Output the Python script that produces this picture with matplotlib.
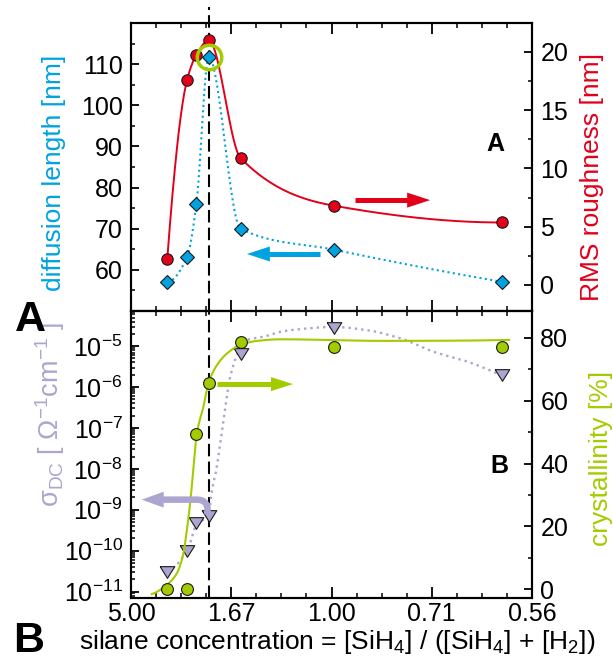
import numpy as np
import matplotlib
matplotlib.use('Agg')
import matplotlib.pyplot as plt
from matplotlib.ticker import FixedLocator, MultipleLocator, LogLocator, NullFormatter, FuncFormatter
from matplotlib.patches import Polygon

plt.rcParams['font.family'] = ['Liberation Sans', 'DejaVu Sans']
plt.rcParams['mathtext.fontset'] = 'custom'
plt.rcParams['mathtext.rm'] = 'Liberation Sans'
plt.rcParams['mathtext.it'] = 'Liberation Sans:italic'
plt.rcParams['mathtext.bf'] = 'Liberation Sans:bold'

# ---------------- data ----------------
silane_conc = [2.90, 2.36, 2.17, 1.96, 1.57, 0.99, 0.595]       # %
diffusion_length = [57.1, 63.1, 76.0, 111.8, 70.0, 64.9, 57.1]   # nm
rms_roughness = [2.26, 17.6, 19.75, 21.0, 10.9, 6.8, 5.36]       # nm
sigma_dc = [3.0e-11, 9.8e-11, 4.8e-10, 6.9e-10, 6.3e-6, 2.8e-5, 1.95e-6]
crystallinity = [0.1, 0.1, 49.3, 65.5, 78.7, 76.9, 76.9]         # %
# crystallinity fit curve (x = 1/concentration)
fit_inv_conc = [0.283, 0.343, 0.383, 0.409, 0.423, 0.436, 0.445, 0.463, 0.489,
                0.509, 0.543, 0.583, 0.636, 0.703, 0.796, 1.196, 1.709]
fit_cryst = [-1.5, 1.4, 5.1, 11.4, 18.9, 27.4, 34.8, 49.6, 58.1,
             65.5, 71.3, 75.0, 77.7, 79.0, 79.5, 79.0, 79.3]
# dotted guide line through the conductivity points (log10 sigma)
guide_inv_conc = [0.343, 0.424, 0.464, 0.508, 0.523, 0.540, 0.569, 0.596, 0.628, 0.663,
                  0.728, 0.796, 0.863, 1.008, 1.143, 1.276, 1.409, 1.543, 1.676]
guide_log_sigma = [-10.48, -10.01, -9.33, -9.16, -8.52, -8.03, -6.81, -5.75, -5.15, -4.85,
                   -4.77, -4.65, -4.59, -4.53, -4.61, -4.81, -5.14, -5.38, -5.71]
transition_conc = 1.96
optimum_index = 3
xtick_inv = [0.2, 0.6, 1.0, 1.4, 1.8]

RED = '#E2001A'
BLUE = '#00A3E0'
LAV = '#ADA5CF'
GREEN = '#A3CC00'
EDGE = '#1a1a1a'
FS_TICK = 18
FS_LAB = 19


def pchip(x, y, xn):
    x = np.asarray(x, float); y = np.asarray(y, float)
    h = np.diff(x); d = np.diff(y) / h
    n = len(x); m = np.zeros(n)
    for k in range(1, n - 1):
        if d[k - 1] * d[k] > 0:
            w1 = 2 * h[k] + h[k - 1]; w2 = h[k] + 2 * h[k - 1]
            m[k] = (w1 + w2) / (w1 / d[k - 1] + w2 / d[k])

    def end(h0, h1, d0, d1):
        mm = ((2 * h0 + h1) * d0 - h0 * d1) / (h0 + h1)
        if np.sign(mm) != np.sign(d0):
            mm = 0.0
        elif np.sign(d0) != np.sign(d1) and abs(mm) > abs(3 * d0):
            mm = 3 * d0
        return mm
    m[0] = end(h[0], h[1], d[0], d[1])
    m[-1] = end(h[-1], h[-2], d[-1], d[-2])
    idx = np.clip(np.searchsorted(x, xn) - 1, 0, n - 2)
    t = (xn - x[idx]) / h[idx]
    h00 = 2 * t**3 - 3 * t**2 + 1; h10 = t**3 - 2 * t**2 + t
    h01 = -2 * t**3 + 3 * t**2; h11 = t**3 - t**2
    return h00 * y[idx] + h10 * h[idx] * m[idx] + h01 * y[idx + 1] + h11 * h[idx] * m[idx + 1]


def draw_arrow(ax, pts, color, shaft_px, head_len_px, head_w_px, corner_px=0.0):
    P = ax.transAxes.transform(np.array(pts, float))
    tip = P[-1]; prev = P[-2]
    dvec = (tip - prev) / np.linalg.norm(tip - prev)
    nrm = np.array([-dvec[1], dvec[0]])
    base = tip - dvec * head_len_px
    path = [P[0]]
    for i in range(1, len(P) - 1):
        c = P[i]
        a = c + (P[i - 1] - c) / np.linalg.norm(P[i - 1] - c) * corner_px
        b = c + (P[i + 1] - c) / np.linalg.norm(P[i + 1] - c) * corner_px
        t = np.linspace(0, 1, 16)[:, None]
        path.extend((1 - t)**2 * a + 2 * (1 - t) * t * c + t**2 * b)
    path.append(base + dvec * 1.0)
    inv = ax.transAxes.inverted()
    pth = inv.transform(np.array(path))
    ax.plot(pth[:, 0], pth[:, 1], color=color, lw=shaft_px * 0.72, solid_capstyle='butt',
            solid_joinstyle='round', transform=ax.transAxes, clip_on=False, zorder=6)
    head = np.array([tip, base + nrm * head_w_px / 2, base - nrm * head_w_px / 2])
    ax.add_patch(Polygon(inv.transform(head), closed=True, facecolor=color, edgecolor='none',
                         transform=ax.transAxes, clip_on=False, zorder=6))


fig = plt.figure(figsize=(6.13, 6.66), dpi=100)
W, H = 613.0, 666.0
axA = fig.add_axes([131 / W, 1 - 311 / H, 401 / W, 288 / H])
axB = fig.add_axes([131 / W, 1 - 597.7 / H, 401 / W, 286.7 / H])
axA2 = axA.twinx()
axB2 = axB.twinx()

xdat = 1.0 / np.array(silane_conc)
xs = np.linspace(xdat.min(), xdat.max(), 400)

# ---------------- panel A ----------------
axA.plot(xs, pchip(xdat, diffusion_length, xs), color=BLUE, lw=1.5, ls=(0, (1, 1.6)), zorder=2)
axA.plot(xdat, diffusion_length, ls='none', marker='D', ms=6.8, mfc=BLUE, mec=EDGE, mew=0.8, zorder=3)
axA.axvline(1 / transition_conc, ymin=0, ymax=1.057, color='k', lw=1.5, ls=(0, (6, 2.5)),
            clip_on=False, zorder=1)
axA2.plot(xs, pchip(xdat, rms_roughness, xs), color=RED, lw=1.4, zorder=2)
axA2.plot(xdat, rms_roughness, ls='none', marker='o', ms=8.2, mfc=RED, mec=EDGE, mew=0.8, zorder=3)
axA2.plot([xdat[optimum_index]], [diffusion_length[optimum_index]], ls='none', marker='o', ms=17.6,
          mfc='none', mec=GREEN, mew=2.5, transform=axA.transData, zorder=7)

# ---------------- panel B ----------------
gx = np.linspace(guide_inv_conc[0], guide_inv_conc[-1], 500)
axB.plot(gx, 10 ** pchip(guide_inv_conc, guide_log_sigma, gx), color=LAV, lw=1.7,
         ls=(0, (1, 1.7)), zorder=2)
tri = [(-1, 0.8), (1, 0.8), (0, -0.8), (-1, 0.8)]
axB.plot(xdat, sigma_dc, ls='none', marker=tri, ms=10.5, mfc=LAV, mec=EDGE, mew=0.8, zorder=3)
axB.axvline(1 / transition_conc, color='k', lw=1.5, ls=(0, (6, 2.5)), zorder=1)
fx = np.linspace(fit_inv_conc[0], fit_inv_conc[-1], 400)
axB2.plot(fx, pchip(fit_inv_conc, fit_cryst, fx), color=GREEN, lw=1.5, zorder=2)
axB2.plot(xdat, crystallinity, ls='none', marker='o', ms=8.5, mfc=GREEN, mec=EDGE, mew=0.8, zorder=3)

# ---------------- axes ----------------
for ax in (axA, axB):
    ax.set_xlim(0.2, 1.8)
    ax.xaxis.set_major_locator(FixedLocator(xtick_inv))
    ax.xaxis.set_minor_locator(MultipleLocator(0.1))
    ax.tick_params(axis='x', which='both', direction='in', top=True, bottom=True)
    ax.tick_params(axis='x', which='major', length=8, width=1.3, labelsize=FS_TICK, pad=3)
    ax.tick_params(axis='x', which='minor', length=3.5, width=1.1)
axA.tick_params(axis='x', labelbottom=False)
axB.xaxis.set_major_formatter(FuncFormatter(lambda v, p: f'{1.0 / v:.2f}'))

axA.set_ylim(50, 120)
axA.yaxis.set_major_locator(FixedLocator([60, 70, 80, 90, 100, 110]))
axA.yaxis.set_minor_locator(MultipleLocator(5))
axA2.set_ylim(-2.24, 22.49)
axA2.yaxis.set_major_locator(FixedLocator([0, 5, 10, 15, 20]))
axA2.yaxis.set_minor_locator(MultipleLocator(2.5))

axB.set_yscale('log')
axB.set_ylim(10 ** -11.15, 10 ** -4.14)
axB.yaxis.set_major_locator(LogLocator(base=10, numticks=20))
axB.yaxis.set_minor_locator(LogLocator(base=10, subs=np.arange(2, 10), numticks=20))
axB.yaxis.set_minor_formatter(NullFormatter())
axB2.set_ylim(-2.67, 88.5)
axB2.yaxis.set_major_locator(FixedLocator([0, 20, 40, 60, 80]))
axB2.yaxis.set_minor_locator(MultipleLocator(10))

for ax in (axA, axA2, axB, axB2):
    ax.tick_params(axis='y', which='major', direction='in', length=5.5, width=1.3,
                   labelsize=FS_TICK, pad=6)
    ax.tick_params(axis='y', which='minor', direction='in', length=3, width=1.1)
    for s in ax.spines.values():
        s.set_linewidth(1.5)

axA.set_ylabel('diffusion length [nm]', color=BLUE, fontsize=FS_LAB)
axA.yaxis.set_label_coords(-0.162, 0.48)
axA2.set_ylabel('RMS roughness [nm]', color=RED, fontsize=FS_LAB)
axA2.yaxis.set_label_coords(1.12, 0.467)
axB.set_ylabel(r'σ$_\mathrm{DC}$ [ Ω$^{-1}$cm$^{-1}$ ]', color=LAV, fontsize=19.5)
axB.yaxis.set_label_coords(-0.16, 0.64)
axB2.set_ylabel('crystallinity [%]', color=GREEN, fontsize=FS_LAB)
axB2.yaxis.set_label_coords(1.143, 0.487)
axB.set_xlabel(r'silane concentration = [SiH$_4$] / ([SiH$_4$] + [H$_2$])', fontsize=FS_LAB)
axB.xaxis.set_label_coords(0.515, -0.104)

axA.text(0.908, 0.58, 'A', transform=axA.transAxes, fontsize=18, fontweight='bold',
         ha='center', va='center')
axB.text(0.918, 0.459, 'B', transform=axB.transAxes, fontsize=18, fontweight='bold',
         ha='center', va='center')
fig.text(0.049, 0.52, 'A', fontsize=31, fontweight='bold', ha='center', va='center')
fig.text(0.046, 0.037, 'B', fontsize=31, fontweight='bold', ha='center', va='center')

# ---------------- arrows ----------------
draw_arrow(axA2, [(0.559, 0.385), (0.746, 0.385)], RED, 5, 23, 15)
draw_arrow(axA2, [(0.471, 0.198), (0.289, 0.198)], BLUE, 5, 23, 15)
draw_arrow(axB2, [(0.2145, 0.745), (0.404, 0.745)], GREEN, 5, 22, 14)
draw_arrow(axB2, [(0.191, 0.29), (0.191, 0.342), (0.0267, 0.342)], LAV, 6.5, 22, 16, corner_px=11)

fig.savefig('out.png', dpi=100)
